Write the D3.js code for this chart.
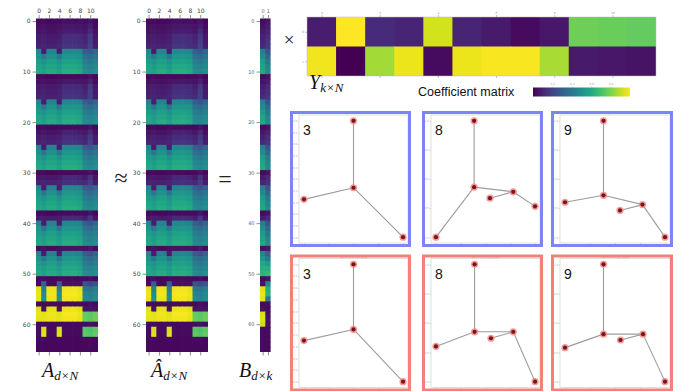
<!DOCTYPE html>
<html>
<head>
<meta charset="utf-8">
<script src="https://cdn.jsdelivr.net/npm/d3@7"></script>
<style>
  html, body { margin: 0; padding: 0; background: #fff; }
  svg { display: block; }
</style>
</head>
<body>
<svg id="fig" width="689" height="391"></svg>
<script>
// ---------- data ----------
// A (d = 66 rows x N = 12 columns), values on a 0..1 colour scale
const dataRows = [
  [0.02,0.03,0.02,0.03,0.03,0.04,0.04,0.03,0.04,0.03,0.05,0.02],
  [0.04,0.05,0.04,0.04,0.05,0.06,0.06,0.06,0.06,0.05,0.08,0.03],
  [0.05,0.06,0.05,0.05,0.06,0.08,0.08,0.08,0.08,0.06,0.12,0.04],
  [0.07,0.08,0.07,0.07,0.08,0.13,0.13,0.13,0.12,0.09,0.17,0.06],
  [0.08,0.09,0.08,0.08,0.09,0.14,0.14,0.14,0.13,0.10,0.18,0.07],
  [0.09,0.10,0.09,0.09,0.10,0.15,0.15,0.15,0.14,0.12,0.20,0.08],
  [0.45,0.08,0.45,0.45,0.08,0.47,0.47,0.47,0.45,0.30,0.27,0.33],
  [0.50,0.40,0.51,0.51,0.40,0.52,0.52,0.52,0.50,0.37,0.34,0.39],
  [0.55,0.50,0.56,0.56,0.50,0.57,0.57,0.57,0.55,0.42,0.40,0.43],
  [0.58,0.55,0.59,0.59,0.55,0.60,0.60,0.60,0.58,0.46,0.44,0.47],
  [0.60,0.57,0.61,0.61,0.57,0.62,0.62,0.62,0.60,0.49,0.47,0.50],
  [0.02,0.03,0.02,0.02,0.03,0.03,0.03,0.03,0.03,0.03,0.05,0.02],
  [0.04,0.05,0.04,0.04,0.05,0.06,0.06,0.06,0.06,0.05,0.09,0.03],
  [0.07,0.08,0.07,0.07,0.08,0.12,0.12,0.12,0.11,0.08,0.16,0.06],
  [0.08,0.09,0.08,0.08,0.09,0.14,0.14,0.14,0.13,0.10,0.18,0.07],
  [0.09,0.10,0.09,0.09,0.10,0.15,0.15,0.15,0.14,0.12,0.19,0.08],
  [0.44,0.08,0.44,0.44,0.08,0.46,0.46,0.46,0.44,0.29,0.26,0.32],
  [0.50,0.39,0.51,0.51,0.39,0.52,0.52,0.52,0.50,0.37,0.34,0.39],
  [0.55,0.50,0.56,0.56,0.50,0.57,0.57,0.57,0.55,0.42,0.40,0.43],
  [0.58,0.55,0.59,0.59,0.55,0.60,0.60,0.60,0.58,0.46,0.44,0.47],
  [0.60,0.57,0.61,0.61,0.57,0.62,0.62,0.62,0.60,0.49,0.47,0.50],
  [0.02,0.03,0.02,0.02,0.03,0.03,0.03,0.03,0.03,0.03,0.05,0.02],
  [0.05,0.06,0.05,0.05,0.06,0.09,0.09,0.09,0.08,0.06,0.12,0.04],
  [0.08,0.09,0.08,0.08,0.09,0.13,0.13,0.13,0.12,0.09,0.17,0.07],
  [0.09,0.10,0.09,0.09,0.10,0.15,0.15,0.15,0.14,0.11,0.19,0.08],
  [0.44,0.08,0.44,0.44,0.08,0.46,0.46,0.46,0.44,0.29,0.26,0.32],
  [0.50,0.39,0.51,0.51,0.39,0.52,0.52,0.52,0.50,0.37,0.34,0.39],
  [0.55,0.50,0.56,0.56,0.50,0.57,0.57,0.57,0.55,0.42,0.40,0.43],
  [0.58,0.55,0.59,0.59,0.55,0.60,0.60,0.60,0.58,0.46,0.44,0.47],
  [0.60,0.57,0.61,0.61,0.57,0.62,0.62,0.62,0.60,0.49,0.47,0.50],
  [0.02,0.03,0.02,0.02,0.03,0.03,0.03,0.03,0.03,0.03,0.05,0.02],
  [0.06,0.07,0.06,0.06,0.07,0.11,0.11,0.11,0.10,0.07,0.15,0.05],
  [0.09,0.10,0.09,0.09,0.10,0.14,0.14,0.14,0.13,0.11,0.18,0.08],
  [0.44,0.08,0.44,0.44,0.08,0.46,0.46,0.46,0.44,0.29,0.26,0.32],
  [0.50,0.39,0.51,0.51,0.39,0.52,0.52,0.52,0.50,0.37,0.34,0.39],
  [0.55,0.50,0.56,0.56,0.50,0.57,0.57,0.57,0.55,0.42,0.40,0.43],
  [0.58,0.55,0.59,0.59,0.55,0.60,0.60,0.60,0.58,0.46,0.44,0.47],
  [0.60,0.57,0.61,0.61,0.57,0.62,0.62,0.62,0.60,0.49,0.47,0.50],
  [0.02,0.03,0.02,0.02,0.03,0.03,0.03,0.03,0.03,0.03,0.05,0.02],
  [0.07,0.08,0.07,0.07,0.08,0.12,0.12,0.12,0.11,0.08,0.16,0.06],
  [0.44,0.08,0.44,0.44,0.08,0.46,0.46,0.46,0.44,0.29,0.26,0.32],
  [0.50,0.39,0.51,0.51,0.39,0.52,0.52,0.52,0.50,0.37,0.34,0.39],
  [0.55,0.50,0.56,0.56,0.50,0.57,0.57,0.57,0.55,0.42,0.40,0.43],
  [0.58,0.55,0.59,0.59,0.55,0.60,0.60,0.60,0.58,0.46,0.44,0.47],
  [0.60,0.57,0.61,0.61,0.57,0.62,0.62,0.62,0.60,0.49,0.47,0.50],
  [0.03,0.04,0.03,0.03,0.04,0.05,0.05,0.05,0.05,0.04,0.07,0.03],
  [0.44,0.08,0.44,0.44,0.08,0.46,0.46,0.46,0.44,0.29,0.26,0.32],
  [0.50,0.39,0.51,0.51,0.39,0.52,0.52,0.52,0.50,0.37,0.34,0.39],
  [0.55,0.50,0.56,0.56,0.50,0.57,0.57,0.57,0.55,0.42,0.40,0.43],
  [0.58,0.55,0.59,0.59,0.55,0.60,0.60,0.60,0.58,0.46,0.44,0.47],
  [0.60,0.57,0.61,0.61,0.57,0.62,0.62,0.62,0.60,0.49,0.47,0.50],
  [0.02,0.03,0.02,0.02,0.03,0.03,0.03,0.03,0.03,0.03,0.04,0.02],
  [0.03,0.30,0.03,0.03,0.30,0.04,0.04,0.04,0.04,0.25,0.22,0.26],
  [0.96,0.42,0.97,0.97,0.42,0.98,0.98,0.98,0.96,0.40,0.38,0.42],
  [0.97,0.48,0.98,0.98,0.48,0.99,0.99,0.99,0.97,0.45,0.43,0.47],
  [0.96,0.50,0.97,0.97,0.50,0.98,0.98,0.98,0.96,0.47,0.45,0.49],
  [0.03,0.03,0.03,0.03,0.03,0.03,0.03,0.03,0.03,0.03,0.04,0.03],
  [0.95,0.05,0.96,0.96,0.05,0.97,0.97,0.97,0.95,0.05,0.06,0.05],
  [0.97,0.95,0.98,0.98,0.95,0.99,0.99,0.99,0.97,0.76,0.74,0.77],
  [0.96,0.96,0.97,0.97,0.96,0.98,0.98,0.98,0.96,0.77,0.75,0.78],
  [0.03,0.03,0.03,0.03,0.03,0.03,0.03,0.03,0.03,0.03,0.04,0.03],
  [0.03,0.94,0.03,0.03,0.94,0.03,0.03,0.03,0.03,0.74,0.72,0.75],
  [0.03,0.95,0.03,0.03,0.95,0.03,0.03,0.03,0.03,0.75,0.73,0.76],
  [0.02,0.03,0.02,0.02,0.03,0.02,0.02,0.02,0.02,0.03,0.03,0.02],
  [0.02,0.02,0.02,0.02,0.02,0.02,0.02,0.02,0.02,0.02,0.03,0.02],
  [0.02,0.02,0.02,0.02,0.02,0.02,0.02,0.02,0.02,0.02,0.02,0.02]
];
// reconstruction shows the same pattern at this scale
const reconRows = dataRows;

// B (d = 66 rows x k = 2 columns)
const basisRows = [
  [0.03,0.06],[0.05,0.08],[0.07,0.10],[0.09,0.13],[0.10,0.15],[0.12,0.16],
  [0.42,0.25],[0.48,0.33],[0.55,0.40],[0.58,0.44],[0.60,0.47],
  [0.03,0.05],[0.05,0.08],[0.08,0.12],[0.10,0.14],[0.12,0.16],
  [0.42,0.25],[0.48,0.33],[0.55,0.40],[0.58,0.44],[0.60,0.47],
  [0.03,0.05],[0.06,0.09],[0.09,0.13],[0.11,0.15],
  [0.42,0.25],[0.48,0.33],[0.55,0.40],[0.58,0.44],[0.60,0.47],
  [0.03,0.05],[0.07,0.11],[0.10,0.14],
  [0.42,0.25],[0.48,0.33],[0.55,0.40],[0.58,0.44],[0.60,0.47],
  [0.03,0.05],[0.08,0.12],
  [0.42,0.25],[0.48,0.33],[0.55,0.40],[0.58,0.44],[0.60,0.47],
  [0.04,0.06],
  [0.45,0.30],[0.52,0.40],[0.60,0.55],[0.63,0.62],[0.65,0.66],
  [0.03,0.05],[0.05,0.45],[0.95,0.62],[0.97,0.64],[0.96,0.40],
  [0.03,0.04],[0.04,0.03],[0.93,0.04],[0.95,0.05],[0.92,0.04],
  [0.03,0.03],[0.03,0.03],[0.03,0.03],[0.03,0.03],[0.03,0.03]
];

// Y (k = 2 rows x N = 12 columns)
const coefRows = [
  [0.08,1.00,0.12,0.10,0.93,0.10,0.07,0.03,0.06,0.78,0.77,0.76],
  [0.98,0.00,0.86,0.97,0.03,0.97,0.99,0.99,0.87,0.07,0.06,0.05]
];

const rowTicks = [0, 10, 20, 30, 40, 50, 60];
const colTicks = [0, 2, 4, 6, 8, 10];
const basisColTicks = [0, 1];
const colorbarTicks = [0.2, 0.4, 0.6, 0.8];

// skeleton joints [x, y] for frames 3, 8 and 9
const origPose3 = [[0, 1], [0, -0.15], [-1, -0.35], [1, -1]];
const origPose8 = [[-0.23, 1], [-0.23, -0.14], [-1, -1], [0.56, -0.22], [0.09, -0.33], [1, -0.47]];
const origPose9 = [[-0.23, 1], [-0.23, -0.28], [-1, -0.40], [0.55, -0.44], [0.10, -0.54], [1, -1]];
const reconPose3 = [[0, 1], [0, -0.11], [-1, -0.30], [1, -1]];
const reconPose8 = [[-0.22, 1], [-0.22, -0.15], [-1, -0.40], [0.56, -0.15], [0.11, -0.26], [1, -1]];
const reconPose9 = [[-0.23, 1], [-0.23, -0.19], [-1, -0.42], [0.56, -0.19], [0.11, -0.29], [1, -1]];
const bones4 = [[0, 1], [1, 2], [1, 3]];
const bones6 = [[0, 1], [1, 2], [1, 3], [4, 3], [3, 5]];

// ---------- drawing ----------
const svg = d3.select("#fig");
const color = d3.scaleSequential(d3.interpolateViridis).domain([0, 1]);
const tickFont = "'DejaVu Sans', sans-serif";
const mathFont = "'Liberation Serif', 'DejaVu Serif', serif";
const intFmt = d3.format("d");

function heatmap(rows, box, opts) {
  const g = svg.append("g");
  const nr = rows.length, nc = rows[0].length;
  const x = d3.scaleBand().domain(d3.range(nc)).range([box.x0, box.x1]);
  const y = d3.scaleBand().domain(d3.range(nr)).range([box.y0, box.y1]);
  const cells = [];
  rows.forEach((r, i) => r.forEach((v, j) => cells.push({ i, j, v })));
  // cells overlap slightly so no seams show between them
  g.selectAll("rect.cell").data(cells).join("rect")
    .attr("class", "cell")
    .attr("x", d => x(d.j)).attr("y", d => y(d.i))
    .attr("width", d => x.bandwidth() + (d.j < nc - 1 ? 0.7 : 0))
    .attr("height", d => y.bandwidth() + (d.i < nr - 1 ? 0.7 : 0))
    .attr("fill", d => color(d.v));

  const xl = d3.scaleLinear().domain([-0.5, nc - 0.5]).range([box.x0, box.x1]);
  const yl = d3.scaleLinear().domain([-0.5, nr - 0.5]).range([box.y0, box.y1]);
  const fs = opts.fontSize || 6;
  const style = a => {
    a.select(".domain").remove();
    a.selectAll("line").attr("stroke", opts.tickColor || "#444").attr("stroke-width", 0.6);
    a.selectAll("text").attr("font-size", fs).attr("font-family", tickFont).attr("fill", opts.textColor || "#444");
  };
  if (opts.colTicks) {
    g.append("g").attr("transform", `translate(0,${box.y0})`)
      .call(d3.axisTop(xl).tickValues(opts.colTicks).tickFormat(intFmt)
        .tickSize(opts.tickLen || 3.5).tickPadding(opts.pad || 2))
      .call(style);
    g.append("g").attr("transform", `translate(0,${box.y1})`)
      .call(d3.axisBottom(xl).tickValues(opts.colTicks).tickSize(opts.tickLen || 3.5).tickFormat(""))
      .call(style);
  }
  if (opts.rowTicks) {
    g.append("g").attr("transform", `translate(${box.x0},0)`)
      .call(d3.axisLeft(yl).tickValues(opts.rowTicks).tickFormat(intFmt)
        .tickSize(opts.tickLen || 3.5).tickPadding(opts.pad || 2))
      .call(style);
  }
  return g;
}

heatmap(dataRows, { x0: 36, x1: 98, y0: 18.5, y1: 352 }, { colTicks, rowTicks });
heatmap(reconRows, { x0: 146, x1: 208, y0: 18.5, y1: 352 }, { colTicks, rowTicks });
heatmap(basisRows, { x0: 260, x1: 270.6, y0: 18.5, y1: 352 },
  { colTicks: basisColTicks, rowTicks, textColor: "#666", fontSize: 5 });
const yg = heatmap(coefRows, { x0: 307, x1: 656, y0: 17, y1: 76 },
  { colTicks, rowTicks: [0, 1], fontSize: 3, tickLen: 2, pad: 1, tickColor: "#999", textColor: "#999" });
yg.append("rect").attr("x", 307).attr("y", 17).attr("width", 349).attr("height", 59)
  .attr("fill", "none").attr("stroke", "#bbb").attr("stroke-width", 0.5);

// colour bar
const defs = svg.append("defs");
const grad = defs.append("linearGradient").attr("id", "viridisBar");
d3.range(0, 1.0001, 0.1).forEach(t => {
  grad.append("stop").attr("offset", `${t * 100}%`).attr("stop-color", color(t));
});
const cb = { x0: 533, x1: 630, y0: 87.5, y1: 96.5 };
svg.append("rect").attr("x", cb.x0).attr("y", cb.y0)
  .attr("width", cb.x1 - cb.x0).attr("height", cb.y1 - cb.y0)
  .attr("fill", "url(#viridisBar)");
const cbScale = d3.scaleLinear().domain([0, 1]).range([cb.x0, cb.x1]);
svg.append("g").attr("transform", `translate(0,${cb.y0})`)
  .call(d3.axisTop(cbScale).tickValues(colorbarTicks).tickSize(1.5).tickPadding(0.8))
  .call(a => {
    a.select(".domain").remove();
    a.selectAll("line").attr("stroke", "#aaa").attr("stroke-width", 0.4);
    a.selectAll("text").attr("font-size", 3).attr("fill", "#aaa").attr("font-family", tickFont);
  });
svg.append("text").attr("x", 418).attr("y", 96).attr("font-family", "'Liberation Sans', Arial, sans-serif")
  .attr("font-size", 12.5).attr("fill", "#111").text("Coefficient matrix");

// operators
const op = (x, y, s, t) => svg.append("text").attr("x", x).attr("y", y).attr("text-anchor", "middle")
  .attr("font-family", mathFont).attr("font-size", s).attr("fill", "#222").text(t);
op(121, 186, 24, "≈");
op(225, 187, 24, "=");
op(289, 46, 19, "×");

// matrix labels
function mathLabel(x, y, main, sub) {
  const t = svg.append("text").attr("x", x).attr("y", y).attr("font-family", mathFont)
    .attr("font-style", "italic").attr("fill", "#111");
  t.append("tspan").attr("font-size", 20).text(main);
  t.append("tspan").attr("font-size", 13).attr("dy", 3).text(sub);
}
mathLabel(42, 377, "A", "d×N");
mathLabel(151, 377, "Â", "d×N");
mathLabel(239, 377, "B", "d×k");
mathLabel(309, 89, "Y", "k×N");

// skeleton panels
function panel(p) {
  const g = svg.append("g");
  const fx0 = p.x0 + 9, fx1 = p.x1 - 3, fy0 = p.y0 + 4, fy1 = p.y1 - 4;
  const [xmin, xmax] = d3.extent(p.pts, d => d[0]);
  const [ymin, ymax] = d3.extent(p.pts, d => d[1]);
  const xp = (xmax - xmin) * 0.05, yp = (ymax - ymin) * 0.05;
  const x = d3.scaleLinear().domain([xmin - xp, xmax + xp]).range([fx0, fx1]);
  const y = d3.scaleLinear().domain([ymin - yp, ymax + yp]).range([fy1, fy0]);

  g.append("rect").attr("x", fx0).attr("y", fy0).attr("width", fx1 - fx0).attr("height", fy1 - fy0)
    .attr("fill", "#fff").attr("stroke", "#c8c8c8").attr("stroke-width", 0.6);
  const tstyle = a => {
    a.select(".domain").remove();
    a.selectAll("line").attr("stroke", "#bbb").attr("stroke-width", 0.5);
    a.selectAll("text").attr("font-size", 2.6).attr("fill", "#aaa").attr("font-family", tickFont);
  };
  g.append("g").attr("transform", `translate(0,${fy1})`)
    .call(d3.axisBottom(x).ticks(5).tickSize(1.2).tickPadding(0.6)).call(tstyle);
  g.append("g").attr("transform", `translate(${fx0},0)`)
    .call(d3.axisLeft(y).ticks(p.yTicks || 5).tickSize(1.2).tickPadding(0.6)).call(tstyle);
  g.append("text").attr("x", (fx0 + fx1) / 2).attr("y", fy0 - 0.6).attr("text-anchor", "middle")
    .attr("font-size", 2.8).attr("fill", "#999").attr("font-family", tickFont).text(p.title);

  g.selectAll("line.bone").data(p.bones).join("line").attr("class", "bone")
    .attr("x1", d => x(p.pts[d[0]][0])).attr("y1", d => y(p.pts[d[0]][1]))
    .attr("x2", d => x(p.pts[d[1]][0])).attr("y2", d => y(p.pts[d[1]][1]))
    .attr("stroke", "#9c9c9c").attr("stroke-width", 1.1);
  g.selectAll("circle.halo").data(p.pts).join("circle").attr("class", "halo")
    .attr("cx", d => x(d[0])).attr("cy", d => y(d[1])).attr("r", 3.6)
    .attr("fill", "#f08a88").attr("opacity", 0.85);
  g.selectAll("circle.joint").data(p.pts).join("circle").attr("class", "joint")
    .attr("cx", d => x(d[0])).attr("cy", d => y(d[1])).attr("r", 2.1)
    .attr("fill", "#7a1418");

  g.append("text").attr("x", p.x0 + 13).attr("y", p.y0 + 24)
    .attr("font-family", "'Liberation Sans', Arial, sans-serif").attr("font-size", 14)
    .attr("fill", "#111").text(p.label);
  g.append("rect").attr("x", p.x0 + 1.5).attr("y", p.y0 + 1.5)
    .attr("width", p.x1 - p.x0 - 3).attr("height", p.y1 - p.y0 - 3)
    .attr("fill", "none").attr("stroke", p.color).attr("stroke-width", 3);
}

const blue = "#7d84f6", red = "#f4807a";
const topRow = { y0: 111, y1: 247 }, bottomRow = { y0: 254.5, y1: 391.5 };
const cols = [{ x0: 290, x1: 411 }, { x0: 422, x1: 543 }, { x0: 551, x1: 673 }];
panel({ ...cols[0], ...topRow, color: blue, label: "3", pts: origPose3, bones: bones4, yTicks: 7, title: "Original skeleton" });
panel({ ...cols[1], ...topRow, color: blue, label: "8", pts: origPose8, bones: bones6, title: "Original skeleton" });
panel({ ...cols[2], ...topRow, color: blue, label: "9", pts: origPose9, bones: bones6, title: "Original skeleton" });
panel({ ...cols[0], ...bottomRow, color: red, label: "3", pts: reconPose3, bones: bones4, yTicks: 7, title: "Reconstructed pose" });
panel({ ...cols[1], ...bottomRow, color: red, label: "8", pts: reconPose8, bones: bones6, title: "Reconstructed pose" });
panel({ ...cols[2], ...bottomRow, color: red, label: "9", pts: reconPose9, bones: bones6, title: "Reconstructed pose" });
</script>
</body>
</html>
